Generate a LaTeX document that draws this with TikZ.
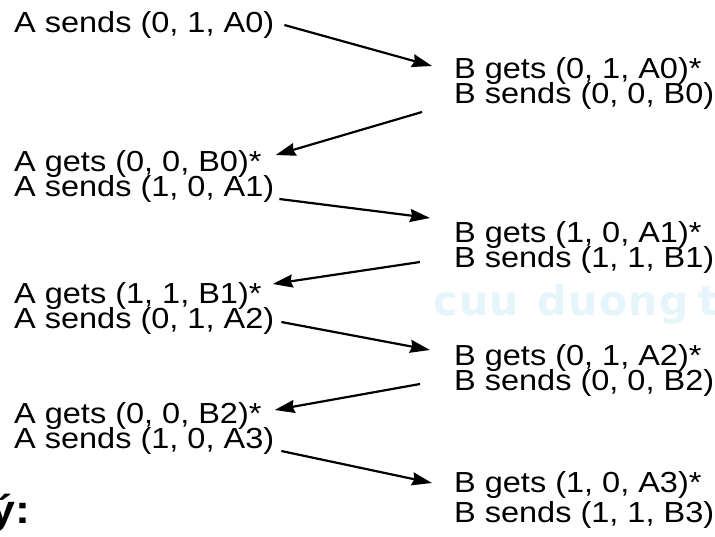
\documentclass[tikz,border=0pt]{standalone}
\usepackage{fontspec}
\setmainfont[FakeStretch=1.12]{Liberation Sans}
\newfontfamily\wmfont[LetterSpace=4]{DejaVu Sans}
\usetikzlibrary{arrows.meta}
\definecolor{wmblue}{RGB}{230,244,251}
\begin{document}
\begin{tikzpicture}[x=1pt,y=-1pt,
  lbl/.style={inner sep=0pt, font=\fontsize{29}{29}\selectfont},
  lw/.style={lbl, anchor=base west},
  arr/.style={line width=2.2pt, -{Stealth[length=20pt,width=13pt,inset=2pt]}}]
\useasboundingbox (0,0) rectangle (715,536);
\begin{scope}
\clip (0,0) rectangle (715,536);
\node[anchor=base west, inner sep=0pt, text=wmblue, font=\wmfont\bfseries\fontsize{41}{41}\selectfont] (wm) at (433,315) {cuu\hspace{18pt}duong\hspace{10pt}than cong};
\node[anchor=base east, inner sep=0pt, font=\bfseries\fontsize{40}{40}\selectfont] (note) at (31,523) {ý:};
\end{scope}
% left column
\node[lw] (a1) at (14,32) {A sends (0, 1, A0)};
\node[lw] (a2) at (14,171) {A gets (0, 0, B0)*};
\node[lw] (a3) at (14,196) {A sends (1, 0, A1)};
\node[lw] (a4) at (14,303) {A gets (1, 1, B1)*};
\node[lw] (a5) at (14,328) {A sends (0, 1, A2)};
\node[lw] (a6) at (14,423) {A gets (0, 0, B2)*};
\node[lw] (a7) at (14,448) {A sends (1, 0, A3)};
% right column
\node[lw] (b1) at (454,78) {B gets (0, 1, A0)*};
\node[lw] (b2) at (454,103) {B sends (0, 0, B0)};
\node[lw] (b3) at (454,242) {B gets (1, 0, A1)*};
\node[lw] (b4) at (454,267) {B sends (1, 1, B1)};
\node[lw] (b5) at (454,365) {B gets (0, 1, A2)*};
\node[lw] (b6) at (454,390) {B sends (0, 0, B2)};
\node[lw] (b7) at (454,492) {B gets (1, 0, A3)*};
\node[lw] (b8) at (454,522) {B sends (1, 1, B3)};
% arrows
\draw[arr] ([shift={(10,-7)}]a1.base east) -- ([shift={(-22,-12)}]b1.base west);
\draw[arr] ([shift={(-32,9)}]b2.base west) -- ([shift={(14,-16)}]a2.base east);
\draw[arr] ([shift={(5,3)}]a3.base east) -- ([shift={(-24,-24)}]b3.base west);
\draw[arr] ([shift={(-34,-5)}]b4.base west) -- ([shift={(11,-19)}]a4.base east);
\draw[arr] ([shift={(7,-6)}]a5.base east) -- ([shift={(-24,-15)}]b5.base west);
\draw[arr] ([shift={(-34,-6)}]b6.base west) -- ([shift={(13,-13)}]a6.base east);
\draw[arr] ([shift={(7,3)}]a7.base east) -- ([shift={(-22,-9)}]b7.base west);
\end{tikzpicture}
\end{document}
